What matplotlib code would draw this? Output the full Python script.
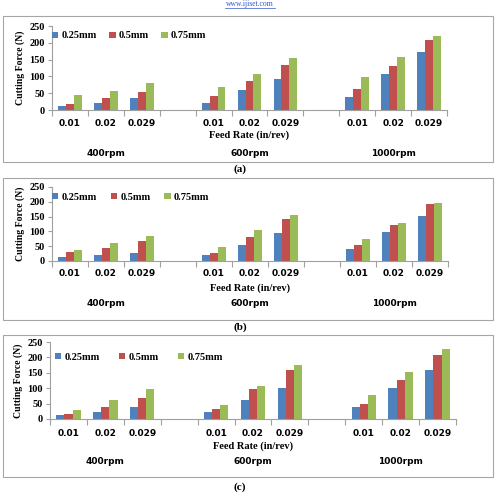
import numpy as np
import matplotlib
matplotlib.use('Agg')
import matplotlib.pyplot as plt
from matplotlib.patches import Rectangle
from matplotlib.lines import Line2D

speeds = ['400rpm', '600rpm', '1000rpm']
feeds = ['0.01', '0.02', '0.029']
depths = ['0.25mm', '0.5mm', '0.75mm']
colors = ['#4F81BD', '#C0504D', '#9BBB59']

# cutting force (N), rows = depth of cut, 9 values = speed x feed
force_a = [
	[12, 22, 36, 21, 59, 93, 39, 106, 173],
	[18, 35, 55, 41, 86, 133, 62, 131, 208],
	[44, 58, 81, 68, 108, 155, 97, 158, 221],
]
force_b = [
	[15, 19, 26, 19, 55, 96, 39, 99, 153],
	[29, 45, 68, 26, 80, 142, 53, 122, 193],
	[38, 60, 84, 48, 104, 157, 73, 127, 196],
]
force_c = [
	[13, 24, 40, 24, 62, 102, 40, 102, 160],
	[15, 39, 69, 34, 97, 160, 48, 126, 207],
	[28, 62, 97, 45, 106, 174, 77, 153, 228],
]
panels = ['(a)', '(b)', '(c)']

W, H = 501, 492
fig = plt.figure(figsize=(W/100, H/100), dpi=100)

def fx(x):
	return x / W

def fy(y):
	return 1 - y / H

serif = 'Liberation Serif'
sans = 'DejaVu Sans'

fig.text(fx(250), fy(4), 'www.ijiset.com', color='#3355cc', fontsize=5.5,
	family=serif, ha='center', va='center')
fig.add_artist(Line2D([fx(225), fx(275)], [fy(8), fy(8)], color='#3355cc', lw=0.5))

# pixel layout of each panel: box (top, bottom), axes (left, right, top, bottom), text rows
layout = [
	dict(box=(16, 162), ax=(52, 447, 26, 110), tick=124, xlab=135, grp=154, cap=169,
		leg=(52, 36, 1.2)),
	dict(box=(178, 320), ax=(52, 448, 187, 261), tick=274, xlab=288, grp=304, cap=327,
		leg=(52, 197, 1.35)),
	dict(box=(335, 477), ax=(50, 456, 342, 419), tick=433, xlab=446, grp=462, cap=487,
		leg=(55, 357, 1.85)),
]

slots = [0, 1, 2, 4, 5, 6, 8, 9, 10]
bw = 0.22

for data, lay, cap in zip([force_a, force_b, force_c], layout, panels):
	bt, bb = lay['box']
	fig.add_artist(Rectangle((fx(3), fy(bb)), fx(490), (bb - bt) / H, fill=False,
		ec='#a6a6a6', lw=0.8))
	l, r, t, b = lay['ax']
	ax = fig.add_axes([fx(l), fy(b), (r - l) / W, (b - t) / H])
	x = np.array(slots, dtype=float)
	for i in range(3):
		ax.bar(x + (i - 1) * bw, data[i], bw, color=colors[i], label=depths[i])
	ax.set_xlim(-0.5, 10.5)
	ax.set_ylim(0, 250)
	ax.set_yticks(range(0, 251, 50))
	for lab in ax.get_yticklabels():
		lab.set_fontfamily(serif)
		lab.set_fontweight('bold')
		lab.set_fontsize(7.5)
	ax.set_xticks(np.arange(-0.5, 11, 1.0))
	ax.set_xticklabels([])
	ax.tick_params(axis='x', length=4, color='#a0a0a0', width=0.8)
	ax.tick_params(axis='y', length=3, color='#a0a0a0', width=0.8, pad=2)
	for s in ['top', 'right']:
		ax.spines[s].set_visible(False)
	for s in ['left', 'bottom']:
		ax.spines[s].set_color('#a0a0a0')
		ax.spines[s].set_linewidth(0.8)
	ax.set_ylabel('Cutting Force (N)', family=serif, fontweight='bold', fontsize=7, labelpad=3)
	for k, sx in enumerate(slots):
		xp = l + (sx + 0.5) / 11 * (r - l)
		fig.text(fx(xp), fy(lay['tick']), feeds[k % 3], ha='center', va='center',
			family=sans, fontweight='bold', fontsize=6.5)
	for g in range(3):
		xp = l + (4 * g + 1.5) / 11 * (r - l)
		fig.text(fx(xp), fy(lay['grp']), speeds[g], ha='center', va='center',
			family=sans, fontweight='bold', fontsize=6.5)
	fig.text(fx((l + r) / 2), fy(lay['xlab']), 'Feed Rate (in/rev)', ha='center', va='center',
		family=serif, fontweight='bold', fontsize=7.5)
	fig.text(fx(240), fy(lay['cap']), cap, ha='center', va='center',
		family=serif, fontweight='bold', fontsize=8)
	lx, ly, cs = lay['leg']
	ax.legend(ncol=3, loc='center left', bbox_to_anchor=(fx(lx - 4), fy(ly)),
		bbox_transform=fig.transFigure, frameon=False,
		handlelength=0.6, handleheight=0.6, handletextpad=0.3, columnspacing=cs,
		prop={'family': serif, 'weight': 'bold', 'size': 7.5}, borderaxespad=0)

fig.savefig('out.png', dpi=100)
